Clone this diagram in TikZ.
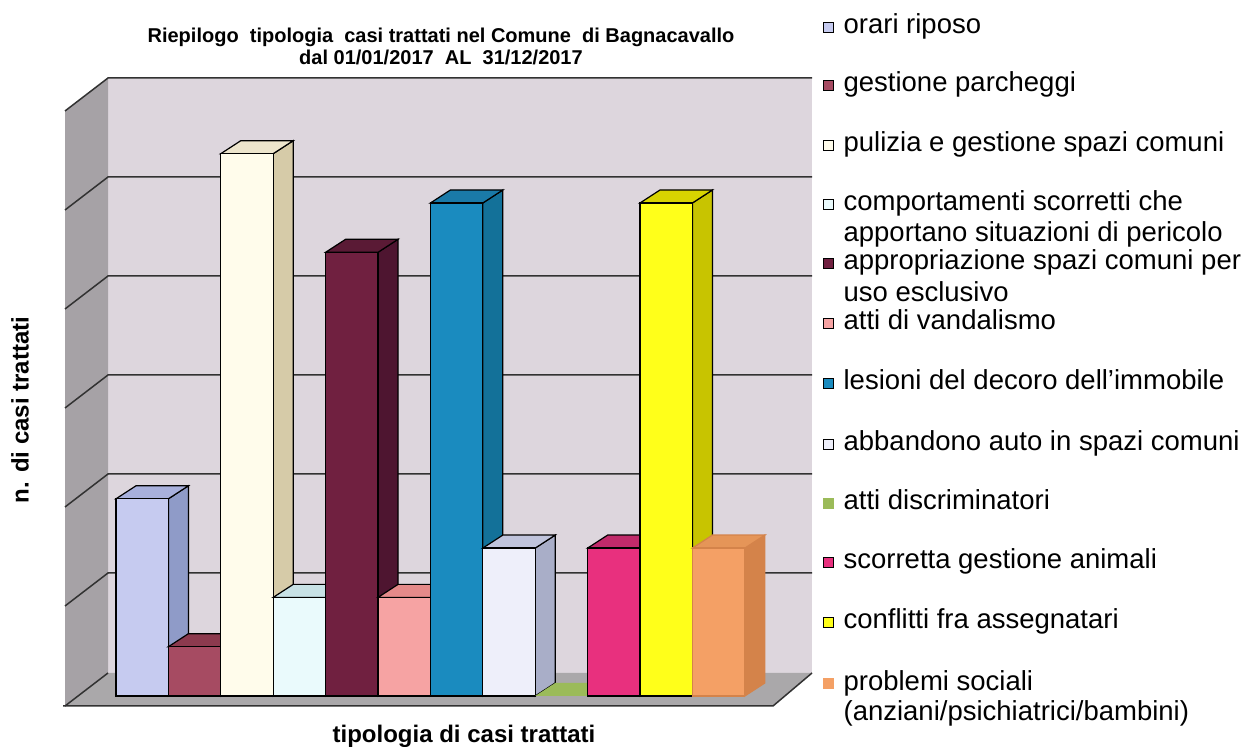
\documentclass[tikz,border=0pt]{standalone}
\usepackage{fontspec}
\setmainfont{Liberation Sans}
\usepackage{tikz}
\usetikzlibrary{positioning}

\definecolor{wallback}{RGB}{221,214,221}
\definecolor{wallside}{RGB}{166,162,166}
\definecolor{wallfloor}{RGB}{170,168,170}
\definecolor{gridgray}{RGB}{50,50,50}
\definecolor{orari}{RGB}{198,203,240}
\definecolor{orariS}{RGB}{143,155,200}
\definecolor{orariT}{RGB}{168,176,220}
\definecolor{parch}{RGB}{166,75,98}
\definecolor{parchS}{RGB}{120,50,68}
\definecolor{parchT}{RGB}{140,58,78}
\definecolor{pulizia}{RGB}{255,252,235}
\definecolor{puliziaS}{RGB}{214,203,168}
\definecolor{puliziaT}{RGB}{237,229,204}
\definecolor{comport}{RGB}{234,250,252}
\definecolor{comportS}{RGB}{180,205,210}
\definecolor{comportT}{RGB}{200,226,230}
\definecolor{appropr}{RGB}{112,32,64}
\definecolor{approprS}{RGB}{78,21,48}
\definecolor{approprT}{RGB}{90,26,53}
\definecolor{vandal}{RGB}{246,163,163}
\definecolor{vandalS}{RGB}{210,120,120}
\definecolor{vandalT}{RGB}{229,138,138}
\definecolor{lesioni}{RGB}{26,139,191}
\definecolor{lesioniS}{RGB}{19,113,153}
\definecolor{lesioniT}{RGB}{26,122,168}
\definecolor{abband}{RGB}{238,239,250}
\definecolor{abbandS}{RGB}{169,174,200}
\definecolor{abbandT}{RGB}{192,196,220}
\definecolor{discrim}{RGB}{155,187,89}
\definecolor{animali}{RGB}{232,48,126}
\definecolor{animaliS}{RGB}{170,30,90}
\definecolor{animaliT}{RGB}{192,42,106}
\definecolor{conflitti}{RGB}{255,255,26}
\definecolor{conflittiS}{RGB}{200,196,0}
\definecolor{conflittiT}{RGB}{216,212,0}
\definecolor{sociali}{RGB}{244,160,101}
\definecolor{socialiS}{RGB}{212,131,74}
\definecolor{socialiT}{RGB}{229,149,88}

% [outline]{left x}{value}{front}{side}{top}
\newcommand{\casebar}[6][black]{%
  \filldraw[fill=#5, draw=#1] (#2+52.4,-696) -- (#2+72.4,-683) -- (#2+72.4,-696+#3*49.3+13) -- (#2+52.4,-696+#3*49.3) -- cycle;
  \filldraw[fill=#6, draw=#1] (#2,-696+#3*49.3) -- (#2+20,-696+#3*49.3+13) -- (#2+72.4,-696+#3*49.3+13) -- (#2+52.4,-696+#3*49.3) -- cycle;
  \filldraw[fill=#4, draw=#1] (#2,-696) rectangle (#2+52.4,-696+#3*49.3);
}

\begin{document}
\begin{tikzpicture}[x=0.5pt,y=0.5pt,line width=0.6pt]
		\tikzstyle{every node}+=[inner sep=0pt]
		\tikzstyle{wallline}=[draw=gridgray, line width=0.75pt]
		\tikzstyle{legbox}=[draw=black, line width=0.4pt, minimum size=5pt]
		\tikzstyle{legtext}=[anchor=base west, font=\fontsize{13.75}{16}\selectfont]
		\tikzstyle{titletext}=[anchor=base, font=\fontsize{10}{12}\selectfont\bfseries]
		\tikzstyle{axistext}=[anchor=base, font=\fontsize{12}{14}\selectfont\bfseries]
		\fill [white] (0,0) rectangle (1247,-747);
		\useasboundingbox (0,0) rectangle (1247,-747);
		\node [titletext] (title1) at (441,-43) {Riepilogo\ \ tipologia\ \ casi trattati nel Comune\ \ di Bagnacavallo};
		\node [titletext] (title2) at (441,-65) {dal 01/01/2017\ \ AL\ \ 31/12/2017};
		\fill [wallback] (108,-78) rectangle (812,-673);
		\fill [wallside] (65,-111) -- (108,-78) -- (108,-673) -- (65,-706) -- cycle;
		\draw [wallline] (65,-111) -- (108,-78) -- (812,-78);
		\draw [wallline] (65,-210) -- (108,-177) -- (812,-177);
		\draw [wallline] (65,-309) -- (108,-276) -- (812,-276);
		\draw [wallline] (65,-408) -- (108,-375) -- (812,-375);
		\draw [wallline] (65,-507) -- (108,-474) -- (812,-474);
		\draw [wallline] (65,-606) -- (108,-573) -- (812,-573);
		\fill [wallfloor] (65,-706) -- (108,-673) -- (812,-673) -- (773,-706) -- cycle;
		\draw [wallline] (65,-706) -- (108,-673);
		\draw [wallline] (63,-706) -- (773,-706) -- (812,-673);
		\casebar{116}{4}{orari}{orariS}{orariT}
		\casebar{168.4}{1}{parch}{parchS}{parchT}
		\casebar{220.8}{11}{pulizia}{puliziaS}{puliziaT}
		\casebar{273.2}{2}{comport}{comportS}{comportT}
		\casebar{325.6}{9}{appropr}{approprS}{approprT}
		\casebar{378}{2}{vandal}{vandalS}{vandalT}
		\casebar{430.4}{10}{lesioni}{lesioniS}{lesioniT}
		\casebar{482.8}{3}{abband}{abbandS}{abbandT}
		\fill [discrim] (535.2,-696) -- (587.6,-696) -- (607.6,-683) -- (555.2,-683) -- cycle;
		\casebar{587.6}{3}{animali}{animaliS}{animaliT}
		\casebar{640}{10}{conflitti}{conflittiS}{conflittiT}
		\casebar[socialiS]{692.4}{3}{sociali}{socialiS}{socialiT}
		\node [axistext, rotate=90, anchor=center] (ylab) at (20,-410) {n. di casi trattati};
		\node [axistext] (xlab) at (464,-742) {tipologia di casi trattati};
		\node [legbox, fill=orari] (k1) at (828,-27) {};
		\node [legtext] (t1) at (843,-34) {orari riposo};
		\node [legbox, fill=parch] (k2) at (828,-85) {};
		\node [legtext] (t2) at (843,-92) {gestione parcheggi};
		\node [legbox, fill=pulizia] (k3) at (828,-145) {};
		\node [legtext] (t3) at (843,-152) {pulizia e gestione spazi comuni};
		\node [legbox, fill=comport] (k4) at (828,-204) {};
		\node [legtext] (t4) at (843,-211) {comportamenti scorretti che};
		\node [legtext] (t4b) at (843,-242) {apportano situazioni di pericolo};
		\node [legbox, fill=appropr] (k5) at (828,-263) {};
		\node [legtext] (t5) at (843,-270) {appropriazione spazi comuni per};
		\node [legtext] (t5b) at (843,-302) {uso esclusivo};
		\node [legbox, fill=vandal] (k6) at (828,-323) {};
		\node [legtext] (t6) at (843,-330) {atti di vandalismo};
		\node [legbox, fill=lesioni] (k7) at (828,-383) {};
		\node [legtext] (t7) at (843,-390) {lesioni del decoro dell'immobile};
		\node [legbox, fill=abband] (k8) at (828,-444) {};
		\node [legtext] (t8) at (843,-451) {abbandono auto in spazi comuni};
		\node [legbox, fill=discrim, draw=discrim] (k9) at (828,-503) {};
		\node [legtext] (t9) at (843,-510) {atti discriminatori};
		\node [legbox, fill=animali] (k10) at (828,-562) {};
		\node [legtext] (t10) at (843,-569) {scorretta gestione animali};
		\node [legbox, fill=conflitti] (k11) at (828,-622) {};
		\node [legtext] (t11) at (843,-629) {conflitti fra assegnatari};
		\node [legbox, fill=sociali, draw=sociali] (k12) at (828,-683) {};
		\node [legtext] (t12) at (843,-690) {problemi sociali};
		\node [legtext] (t12b) at (843,-720) {(anziani/psichiatrici/bambini)};
\end{tikzpicture}
\end{document}
